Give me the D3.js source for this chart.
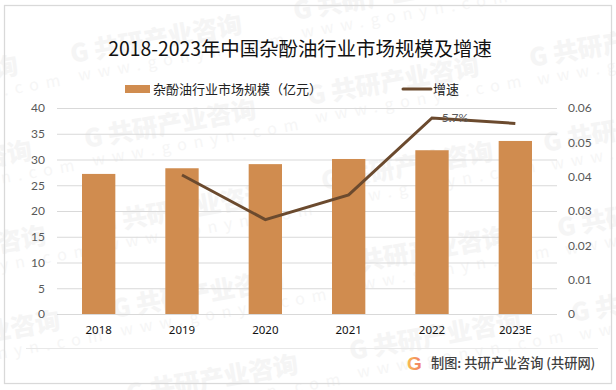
<!DOCTYPE html>
<html>
<head>
<meta charset="utf-8">
<script src="https://cdn.jsdelivr.net/npm/d3@7"></script>
<style>
	html, body { margin: 0; padding: 0; background: #fff; }
	svg { display: block; }
	text { font-family: "Noto Sans CJK SC", "Noto Sans", sans-serif; }
</style>
</head>
<body>
<div id="chart"></div>
<script>
	const years = ['2018', '2019', '2020', '2021', '2022', '2023E'];
	const marketSize = [27.2, 28.3, 29.1, 30.1, 31.8, 33.6];
	const growth = [null, 0.0405, 0.0275, 0.0347, 0.0571, 0.0555];
	const leftTicks = [0, 5, 10, 15, 20, 25, 30, 35, 40];
	const rightTicks = [0, 0.01, 0.02, 0.03, 0.04, 0.05, 0.06];
	const titleText = '2018-2023年中国杂酚油行业市场规模及增速';
	const barName = '杂酚油行业市场规模（亿元）';
	const lineName = '增速';
	const footerText = '制图: 共研产业咨询 (共研网)';

	const width = 616;
	const height = 390;
	const margin = {top: 108, right: 59, bottom: 76, left: 57};

	const svg = d3.select('#chart')
		.append('svg')
		.attr('width', width)
		.attr('height', height);

	const x = d3.scaleBand()
		.domain(years)
		.range([margin.left, width - margin.right])
		.paddingInner(0.6)
		.paddingOuter(0.3);

	const yLeft = d3.scaleLinear()
		.domain([0, 40])
		.range([height - margin.bottom, margin.top]);

	const yRight = d3.scaleLinear()
		.domain([0, 0.06])
		.range([height - margin.bottom, margin.top]);

	/* WATERMARK */
	// column starts of the repeated stamp, each one steps down by rowStep
	const stampColumns = [[-152, 104, 4], [72, 63, 5], [295, 20, 5], [531, 67, 4]];
	const rowStep = [14, 85];
	const stampGroup = svg.append('g');
	stampColumns.forEach(c => {
		d3.range(c[2]).forEach(r => {
			const g = stampGroup.append('g')
				.attr('transform', `translate(${c[0] + r * rowStep[0]}, ${c[1] + r * rowStep[1]}) rotate(-10)`);
			g.append('text')
				.style('font-size', '25px')
				.style('font-weight', 900)
				.style('fill', '#f5f5f5')
				.text('G 共研产业咨询');
			g.append('text')
				.attr('x', 4)
				.attr('y', 19)
				.style('font-size', '16px')
				.style('letter-spacing', '7px')
				.style('fill', '#f6f6f6')
				.text('www.gonyn.com');
		});
	});

	/* FRAME */
	svg.append('rect')
		.attr('x', 4.5)
		.attr('y', 5.5)
		.attr('width', 607)
		.attr('height', 378)
		.style('fill', 'none')
		.style('stroke', '#d9d9d9')
		.style('stroke-width', 1.25);

	svg.append('line')
		.attr('x1', 26)
		.attr('x2', 598)
		.attr('y1', 348.5)
		.attr('y2', 348.5)
		.style('stroke', '#e8e8e8');

	/* TITLE */
	svg.append('text')
		.attr('x', 300)
		.attr('y', 56)
		.style('text-anchor', 'middle')
		.style('font-size', '19.4px')
		.style('fill', '#111')
		.text(titleText);

	/* LEGEND */
	svg.append('rect')
		.attr('x', 125)
		.attr('y', 85)
		.attr('width', 25)
		.attr('height', 8)
		.style('fill', '#d08c4f');

	svg.append('text')
		.attr('x', 153)
		.attr('y', 94)
		.style('font-size', '13px')
		.style('fill', '#222')
		.text(barName);

	svg.append('line')
		.attr('x1', 403)
		.attr('x2', 431)
		.attr('y1', 89)
		.attr('y2', 89)
		.style('stroke', '#6b4a2e')
		.style('stroke-width', 3)
		.style('stroke-linecap', 'round');

	svg.append('text')
		.attr('x', 433)
		.attr('y', 94)
		.style('font-size', '13px')
		.style('fill', '#222')
		.text(lineName);

	/* AXES */
	const gridAxis = d3.axisLeft(yLeft)
		.tickValues(leftTicks)
		.tickSize(-(width - margin.left - margin.right))
		.tickFormat(d => d)
		.tickPadding(12);

	const leftAxis = svg.append('g')
		.attr('transform', `translate(${margin.left}, 0)`)
		.call(gridAxis);
	leftAxis.select('.domain').remove();
	leftAxis.selectAll('line')
		.style('stroke', '#d9d9d9')
		.style('stroke-width', 1);
	leftAxis.selectAll('text')
		.style('font-family', 'Lato')
		.style('font-size', '12px')
		.style('fill', '#595959');

	const rightAxis = svg.append('g')
		.attr('transform', `translate(${width - margin.right}, 0)`)
		.call(d3.axisRight(yRight).tickValues(rightTicks).tickSize(0).tickPadding(11).tickFormat(d => d));
	rightAxis.select('.domain').remove();
	rightAxis.selectAll('text')
		.style('font-family', 'Lato')
		.style('font-size', '12px')
		.style('fill', '#595959');

	const bottomAxis = svg.append('g')
		.attr('transform', `translate(0, ${height - margin.bottom})`)
		.call(d3.axisBottom(x).tickSize(0).tickPadding(12));
	bottomAxis.select('.domain').remove();
	bottomAxis.selectAll('text')
		.style('font-family', '"Noto Sans"')
		.style('font-size', '11.5px')
		.style('fill', '#111');

	/* BARS */
	svg.append('g')
		.selectAll('rect')
		.data(marketSize)
		.enter()
		.append('rect')
		.attr('x', (d, i) => x(years[i]))
		.attr('y', d => yLeft(d))
		.attr('width', x.bandwidth())
		.attr('height', d => yLeft(0) - yLeft(d))
		.style('fill', '#d08c4f');

	/* LINE */
	const line = d3.line()
		.defined(d => d !== null)
		.x((d, i) => x(years[i]) + x.bandwidth() / 2)
		.y(d => yRight(d));

	svg.append('path')
		.datum(growth)
		.attr('d', line)
		.style('fill', 'none')
		.style('stroke', '#6b4a2e')
		.style('stroke-width', 3);

	svg.append('text')
		.attr('x', x('2022') + x.bandwidth() / 2 + 23)
		.attr('y', yRight(growth[4]) + 4)
		.style('text-anchor', 'middle')
		.style('font-family', 'Lato')
		.style('font-size', '12px')
		.style('fill', '#595959')
		.text('5.7%');

	/* FOOTER */
	const logoGradient = svg.append('defs')
		.append('linearGradient')
		.attr('id', 'logo-gradient')
		.attr('x1', 0)
		.attr('x2', 1);
	logoGradient.append('stop').attr('offset', 0).attr('stop-color', '#f9c04f');
	logoGradient.append('stop').attr('offset', 1).attr('stop-color', '#f0786a');

	svg.append('text')
		.attr('x', 407)
		.attr('y', 370)
		.style('font-family', '"Liberation Sans"')
		.style('font-size', '19px')
		.style('font-weight', 700)
		.style('fill', 'url(#logo-gradient)')
		.text('G');

	svg.append('text')
		.attr('x', 431)
		.attr('y', 368)
		.style('font-size', '13.2px')
		.style('font-weight', 500)
		.style('fill', '#404040')
		.text(footerText);
</script>
</body>
</html>
